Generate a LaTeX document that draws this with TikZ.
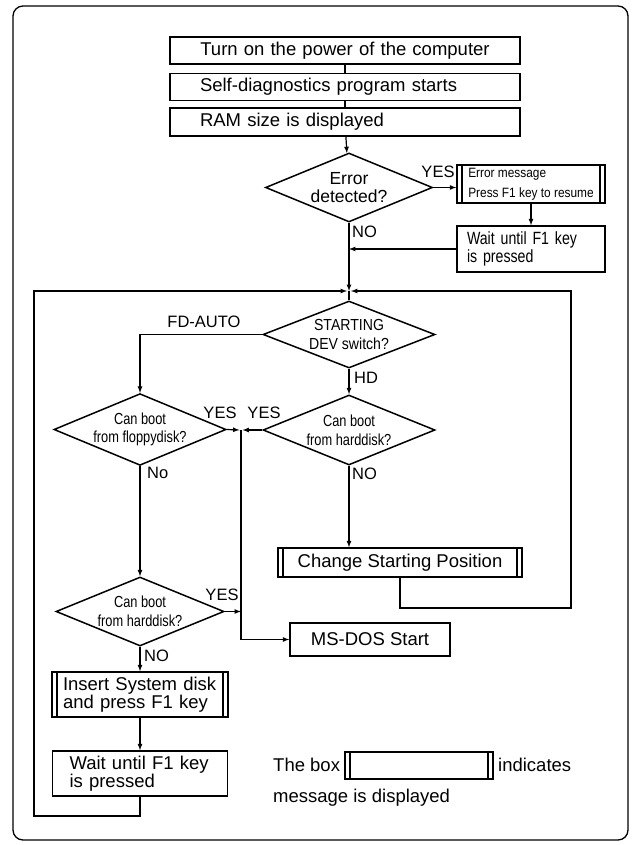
\documentclass[tikz,border=0pt]{standalone}
\usepackage{fontspec}
\setmainfont{Liberation Sans}
\newfontfamily\narrowfont[FakeStretch=0.8]{Liberation Sans}
\newfontfamily\semifont[FakeStretch=0.88]{Liberation Sans}
\usepackage{tikz}
\usetikzlibrary{shapes.geometric, arrows, positioning, calc}

\tikzset{
  flowbox/.style={draw, line width=1.5pt, inner sep=0pt,
                  font=\fontsize{18.5}{18.5}\selectfont},
  msgbox/.style={flowbox, path picture={
      \draw[line width=1.1pt]
        ([xshift=5pt]path picture bounding box.north west) --
        ([xshift=5pt]path picture bounding box.south west);
      \draw[line width=1.1pt]
        ([xshift=-5pt]path picture bounding box.north east) --
        ([xshift=-5pt]path picture bounding box.south east);}},
  decision/.style={diamond, draw, line width=1.5pt, inner sep=0pt,
                   aspect=2.4, align=center},
  flow/.style={line width=1.2pt, -latex},
  link/.style={line width=1.2pt},
  answer/.style={inner sep=0pt, font=\fontsize{16.5}{16.5}\selectfont},
  plain/.style={inner sep=0pt, font=\fontsize{18.5}{18.5}\selectfont}
}

\begin{document}
\begin{tikzpicture}[x=1pt, y=-1pt]
\useasboundingbox (0,0) rectangle (634,845);

% outer frame
\draw[line width=1.3pt, rounded corners=10pt] (13,6) rectangle (628,840);

% power on and self test
\node[flowbox, minimum width=350pt, minimum height=27pt, text width=290pt, align=center]
  (power) at (345,50.5) {Turn on the power of the computer};
\node[flowbox, minimum width=350pt, minimum height=27pt, text width=290pt, align=left]
  (selftest) at (345,87) {Self-diagnostics program starts};
\node[flowbox, minimum width=350pt, minimum height=28pt, text width=290pt, align=left]
  (ramsize) at (345,122) {RAM size is displayed};

% error check
\node[decision, minimum width=167pt, minimum height=69pt, font=\fontsize{17.5}{18}\selectfont]
  (errq) at (349,187.5) {Error\\detected?};
\node[msgbox, minimum width=148pt, minimum height=38pt, align=left,
      font=\semifont\fontsize{13.5}{20}\selectfont]
  (errmsg) at (531,184) {Error message\\Press F1 key to resume};
\node[flowbox, minimum width=148pt, minimum height=46pt, text width=128pt, align=left,
      font=\narrowfont\fontsize{17.7}{18}\selectfont]
  (errwait) at (531,249) {Wait until F1 key\\is pressed};
\node[answer] (yeserr) at (438,172) {YES};
\node[answer, anchor=west] (noerr) at (352,232) {NO};

% starting device
\coordinate (merge) at (349,291);
\node[decision, minimum width=172pt, minimum height=67pt, font=\semifont\fontsize{16}{19}\selectfont]
  (devq) at (349,334.5) {STARTING\\DEV switch?};
\node[answer] (fdauto) at (204,322) {FD-AUTO};
\node[answer, anchor=west] (hd) at (354,378) {HD};

% boot checks
\node[decision, minimum width=168pt, minimum height=69pt, font=\narrowfont\fontsize{16}{18}\selectfont]
  (floppyq) at (140,429.5) {Can boot\\from floppydisk?};
\node[decision, minimum width=172pt, minimum height=70pt, font=\narrowfont\fontsize{16}{19}\selectfont]
  (hardq) at (349,430) {Can boot\\from harddisk?};
\node[decision, minimum width=168pt, minimum height=69pt, font=\narrowfont\fontsize{16}{19}\selectfont]
  (hard2q) at (140,611.5) {Can boot\\from harddisk?};
\coordinate (yesjoin) at (241,430);
\node[answer] (yesfd) at (220,413) {YES};
\node[answer] (yeshd) at (264,413) {YES};
\node[answer] (yeshd2) at (222,595) {YES};
\node[answer, anchor=west] (nofd) at (147,473) {No};
\node[answer, anchor=west] (nohd) at (352,474) {NO};
\node[answer, anchor=west] (nohd2) at (144,656) {NO};

% results
\node[msgbox, minimum width=244pt, minimum height=29pt]
  (change) at (400,562.5) {Change Starting Position};
\node[flowbox, minimum width=160pt, minimum height=33pt]
  (msdos) at (370,639.5) {MS-DOS Start};
\node[msgbox, minimum width=176pt, minimum height=45pt, text width=154pt, align=left,
      font=\fontsize{18.5}{18}\selectfont]
  (insert) at (140,694.5) {Insert System disk\\and press F1 key};
\node[flowbox, minimum width=175pt, minimum height=45pt, text width=141pt, align=left,
      font=\fontsize{18.5}{18}\selectfont]
  (wait) at (140,773.5) {Wait until F1 key\\is pressed};
\coordinate (retR) at (571,608);
\coordinate (retL) at (34,816);

% legend
\node[plain, anchor=west] (legbox) at (273,765) {The box};
\node[msgbox, minimum width=148pt, minimum height=27pt] (legend) at (419,765.5) {};
\node[plain, anchor=west] (legind) at (498,765) {indicates};
\node[plain, anchor=west] (legmsg) at (273,798) {message is displayed};

% connectors
\draw[link] (power) -- (selftest);
\draw[link] (selftest) -- (ramsize);
\draw[flow] (ramsize) -- (errq);
\draw[flow] (errq.east) -- (errq.east -| errmsg.west);
\draw[flow] (errmsg.south -| errwait.north) -- (errwait.north);
\draw[flow] (errwait.west) -- (errwait.west -| errq.south);
\draw[flow] (errq.south) -- (merge);
\draw[link] (merge) -- (devq.north);
\draw[flow] (devq.west) -| (floppyq.north);
\draw[flow] (devq) -- (hardq);
\draw[flow] (floppyq.east) -- ([xshift=-1.5pt]yesjoin);
\draw[flow] (hardq.west) -- ([xshift=1.5pt]yesjoin);
\draw[flow] (yesjoin) |- (msdos.west);
\draw[flow] (hard2q.east) -- (hard2q.east -| yesjoin);
\draw[flow] (floppyq) -- (hard2q);
\draw[flow] (hardq.south) -- (hardq.south |- change.north);
\draw[flow] (change.south) |- (retR) |- ([xshift=2pt]merge);
\draw[flow] (hard2q) -- (insert);
\draw[flow] (insert) -- (wait);
\draw[flow] (wait.south) |- (retL) |- ([xshift=-2pt]merge);

\end{tikzpicture}
\end{document}
